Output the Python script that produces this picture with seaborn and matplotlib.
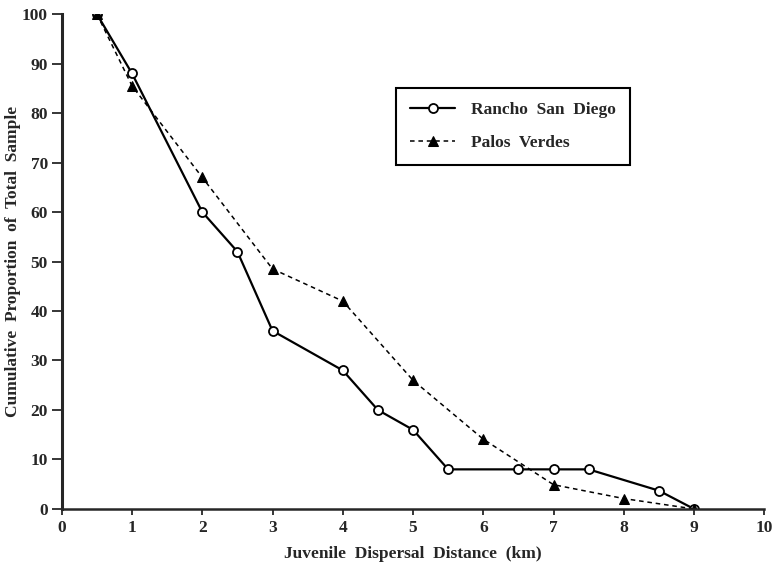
import numpy as np
import pandas as pd
import matplotlib
matplotlib.use('Agg')
import matplotlib.pyplot as plt
import seaborn as sns

# values
rancho_km = [0.5, 1, 2, 2.5, 3, 4, 4.5, 5, 5.5, 6.5, 7, 7.5, 8.5, 9]
rancho_pct = [100, 88, 60, 52, 36, 28, 20, 16, 8, 8, 8, 8, 3.7, 0]
palos_km = [0.5, 1, 2, 3, 4, 5, 6, 7, 8, 9]
palos_pct = [100, 85.5, 67, 48.5, 42, 26, 14.1, 4.9, 2.1, 0]

x_ticks = list(range(0, 11))
y_ticks = list(range(0, 101, 10))

sns.set_style('ticks')
plt.rcParams['font.family'] = ['Liberation Serif', 'DejaVu Serif']
plt.rcParams['font.weight'] = 'bold'

fig = plt.figure(figsize=(7.72, 5.63), dpi=100)
ax = fig.add_axes([0.080, 0.096, 0.910, 0.879])

df_r = pd.DataFrame({'km': rancho_km, 'pct': rancho_pct})
df_p = pd.DataFrame({'km': palos_km, 'pct': palos_pct})

sns.lineplot(data=df_r, x='km', y='pct', ax=ax, color='black', lw=1.6,
             marker='o', markersize=6.5, markerfacecolor='white',
             markeredgecolor='black', markeredgewidth=1.3,
             label='Rancho  San  Diego')
sns.lineplot(data=df_p, x='km', y='pct', ax=ax, color='black', lw=1.1,
             linestyle=(0, (3, 2.5)), marker='^', markersize=6.5,
             markerfacecolor='black', markeredgecolor='black',
             label='Palos  Verdes')

ax.set_xlim(0, 10)
ax.set_ylim(0, 100)
ax.set_xticks(x_ticks)
ax.set_yticks(y_ticks)
ax.tick_params(labelsize=12.5, width=1.3, direction='out')
ax.tick_params(axis='y', length=7, pad=3)
ax.tick_params(axis='x', length=4, pad=4)
for lab in ax.get_xticklabels() + ax.get_yticklabels():
    lab.set_fontweight('bold')

sns.despine(ax=ax)
ax.spines['left'].set_linewidth(2.2)
ax.spines['bottom'].set_linewidth(1.8)

ax.set_xlabel('Juvenile  Dispersal  Distance  (km)', fontsize=12.5, fontweight='bold')
ax.set_ylabel('Cumulative  Proportion  of  Total  Sample', fontsize=12.5, fontweight='bold')
ax.xaxis.set_label_coords(0.5, -0.075)
ax.yaxis.set_label_coords(-0.058, 0.5)

leg = ax.legend(loc='upper left', bbox_to_anchor=(0.476, 0.850), borderaxespad=0,
                fontsize=12.5, frameon=True, fancybox=False, edgecolor='black',
                framealpha=1, handlelength=2.6, handletextpad=0.9,
                borderpad=0.8, labelspacing=0.95)
leg.get_frame().set_linewidth(1.5)
for t in leg.get_texts():
    t.set_fontweight('bold')

plt.savefig('out.png', dpi=100)
